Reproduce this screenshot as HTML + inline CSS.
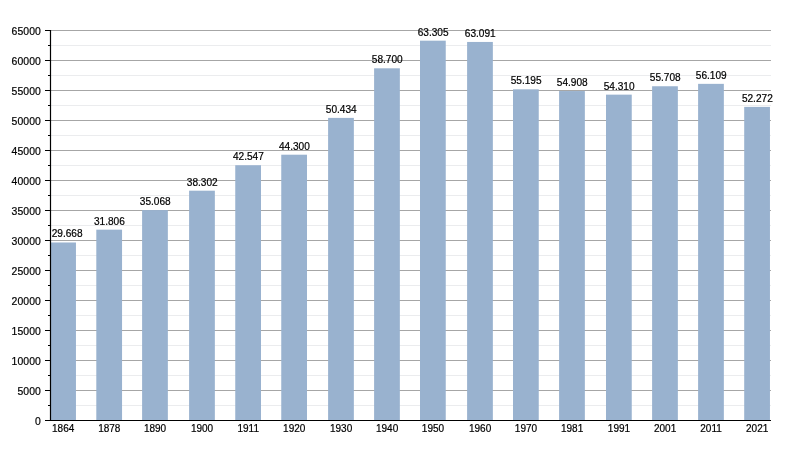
<!DOCTYPE html>
<html><head><meta charset="utf-8"><title>Chart</title>
<style>html,body{margin:0;padding:0;background:#fff}svg{display:block}text{font-family:"Liberation Sans",sans-serif;font-size:10.1px;fill:#000}.yl{font-size:10.45px;letter-spacing:0.05px}.xl{font-size:10px}text{stroke:#000;stroke-width:0.2px}</style></head><body>
<svg width="800" height="450" viewBox="0 0 800 450">
<rect width="800" height="450" fill="#fff"/>
<line x1="50.5" y1="405.5" x2="771" y2="405.5" stroke="#ebecee" stroke-width="1"/>
<line x1="50.5" y1="375.5" x2="771" y2="375.5" stroke="#ebecee" stroke-width="1"/>
<line x1="50.5" y1="345.5" x2="771" y2="345.5" stroke="#ebecee" stroke-width="1"/>
<line x1="50.5" y1="315.5" x2="771" y2="315.5" stroke="#ebecee" stroke-width="1"/>
<line x1="50.5" y1="285.5" x2="771" y2="285.5" stroke="#ebecee" stroke-width="1"/>
<line x1="50.5" y1="255.5" x2="771" y2="255.5" stroke="#ebecee" stroke-width="1"/>
<line x1="50.5" y1="225.5" x2="771" y2="225.5" stroke="#ebecee" stroke-width="1"/>
<line x1="50.5" y1="195.5" x2="771" y2="195.5" stroke="#ebecee" stroke-width="1"/>
<line x1="50.5" y1="165.5" x2="771" y2="165.5" stroke="#ebecee" stroke-width="1"/>
<line x1="50.5" y1="135.5" x2="771" y2="135.5" stroke="#ebecee" stroke-width="1"/>
<line x1="50.5" y1="105.5" x2="771" y2="105.5" stroke="#ebecee" stroke-width="1"/>
<line x1="50.5" y1="75.5" x2="771" y2="75.5" stroke="#ebecee" stroke-width="1"/>
<line x1="50.5" y1="45.5" x2="771" y2="45.5" stroke="#ebecee" stroke-width="1"/>
<line x1="50.5" y1="390.5" x2="771" y2="390.5" stroke="#a6a6a6" stroke-width="1"/>
<line x1="50.5" y1="360.5" x2="771" y2="360.5" stroke="#a6a6a6" stroke-width="1"/>
<line x1="50.5" y1="330.5" x2="771" y2="330.5" stroke="#a6a6a6" stroke-width="1"/>
<line x1="50.5" y1="300.5" x2="771" y2="300.5" stroke="#a6a6a6" stroke-width="1"/>
<line x1="50.5" y1="270.5" x2="771" y2="270.5" stroke="#a6a6a6" stroke-width="1"/>
<line x1="50.5" y1="240.5" x2="771" y2="240.5" stroke="#a6a6a6" stroke-width="1"/>
<line x1="50.5" y1="210.5" x2="771" y2="210.5" stroke="#a6a6a6" stroke-width="1"/>
<line x1="50.5" y1="180.5" x2="771" y2="180.5" stroke="#a6a6a6" stroke-width="1"/>
<line x1="50.5" y1="150.5" x2="771" y2="150.5" stroke="#a6a6a6" stroke-width="1"/>
<line x1="50.5" y1="120.5" x2="771" y2="120.5" stroke="#a6a6a6" stroke-width="1"/>
<line x1="50.5" y1="90.5" x2="771" y2="90.5" stroke="#a6a6a6" stroke-width="1"/>
<line x1="50.5" y1="60.5" x2="771" y2="60.5" stroke="#a6a6a6" stroke-width="1"/>
<line x1="50.5" y1="30.5" x2="771" y2="30.5" stroke="#a6a6a6" stroke-width="1"/>
<rect x="50.20" y="242.49" width="25.75" height="178.01" fill="#99b2cf"/>
<rect x="96.30" y="229.66" width="25.75" height="190.84" fill="#99b2cf"/>
<rect x="142.10" y="210.09" width="25.75" height="210.41" fill="#99b2cf"/>
<rect x="189.10" y="190.69" width="25.75" height="229.81" fill="#99b2cf"/>
<rect x="235.25" y="165.22" width="25.75" height="255.28" fill="#99b2cf"/>
<rect x="281.25" y="154.70" width="25.75" height="265.80" fill="#99b2cf"/>
<rect x="328.10" y="117.90" width="25.75" height="302.60" fill="#99b2cf"/>
<rect x="374.10" y="68.30" width="25.75" height="352.20" fill="#99b2cf"/>
<rect x="420.00" y="40.67" width="25.75" height="379.83" fill="#99b2cf"/>
<rect x="467.10" y="41.95" width="25.75" height="378.55" fill="#99b2cf"/>
<rect x="513.00" y="89.33" width="25.75" height="331.17" fill="#99b2cf"/>
<rect x="559.10" y="91.05" width="25.75" height="329.45" fill="#99b2cf"/>
<rect x="606.00" y="94.64" width="25.75" height="325.86" fill="#99b2cf"/>
<rect x="652.10" y="86.25" width="25.75" height="334.25" fill="#99b2cf"/>
<rect x="698.10" y="83.85" width="25.75" height="336.65" fill="#99b2cf"/>
<rect x="744.20" y="106.87" width="25.75" height="313.63" fill="#99b2cf"/>
<line x1="50.5" y1="30" x2="50.5" y2="421" stroke="#000" stroke-width="1.2"/>
<line x1="45" y1="420.5" x2="771" y2="420.5" stroke="#000" stroke-width="1"/>
<line x1="45" y1="420.5" x2="50.5" y2="420.5" stroke="#000" stroke-width="1"/>
<text class="yl" x="40.9" y="424.80" text-anchor="end">0</text>
<line x1="48" y1="405.5" x2="50.5" y2="405.5" stroke="#000" stroke-width="1"/>
<line x1="45" y1="390.5" x2="50.5" y2="390.5" stroke="#000" stroke-width="1"/>
<text class="yl" x="40.9" y="394.80" text-anchor="end">5000</text>
<line x1="48" y1="375.5" x2="50.5" y2="375.5" stroke="#000" stroke-width="1"/>
<line x1="45" y1="360.5" x2="50.5" y2="360.5" stroke="#000" stroke-width="1"/>
<text class="yl" x="40.9" y="364.80" text-anchor="end">10000</text>
<line x1="48" y1="345.5" x2="50.5" y2="345.5" stroke="#000" stroke-width="1"/>
<line x1="45" y1="330.5" x2="50.5" y2="330.5" stroke="#000" stroke-width="1"/>
<text class="yl" x="40.9" y="334.80" text-anchor="end">15000</text>
<line x1="48" y1="315.5" x2="50.5" y2="315.5" stroke="#000" stroke-width="1"/>
<line x1="45" y1="300.5" x2="50.5" y2="300.5" stroke="#000" stroke-width="1"/>
<text class="yl" x="40.9" y="304.80" text-anchor="end">20000</text>
<line x1="48" y1="285.5" x2="50.5" y2="285.5" stroke="#000" stroke-width="1"/>
<line x1="45" y1="270.5" x2="50.5" y2="270.5" stroke="#000" stroke-width="1"/>
<text class="yl" x="40.9" y="274.80" text-anchor="end">25000</text>
<line x1="48" y1="255.5" x2="50.5" y2="255.5" stroke="#000" stroke-width="1"/>
<line x1="45" y1="240.5" x2="50.5" y2="240.5" stroke="#000" stroke-width="1"/>
<text class="yl" x="40.9" y="244.80" text-anchor="end">30000</text>
<line x1="48" y1="225.5" x2="50.5" y2="225.5" stroke="#000" stroke-width="1"/>
<line x1="45" y1="210.5" x2="50.5" y2="210.5" stroke="#000" stroke-width="1"/>
<text class="yl" x="40.9" y="214.80" text-anchor="end">35000</text>
<line x1="48" y1="195.5" x2="50.5" y2="195.5" stroke="#000" stroke-width="1"/>
<line x1="45" y1="180.5" x2="50.5" y2="180.5" stroke="#000" stroke-width="1"/>
<text class="yl" x="40.9" y="184.80" text-anchor="end">40000</text>
<line x1="48" y1="165.5" x2="50.5" y2="165.5" stroke="#000" stroke-width="1"/>
<line x1="45" y1="150.5" x2="50.5" y2="150.5" stroke="#000" stroke-width="1"/>
<text class="yl" x="40.9" y="154.80" text-anchor="end">45000</text>
<line x1="48" y1="135.5" x2="50.5" y2="135.5" stroke="#000" stroke-width="1"/>
<line x1="45" y1="120.5" x2="50.5" y2="120.5" stroke="#000" stroke-width="1"/>
<text class="yl" x="40.9" y="124.80" text-anchor="end">50000</text>
<line x1="48" y1="105.5" x2="50.5" y2="105.5" stroke="#000" stroke-width="1"/>
<line x1="45" y1="90.5" x2="50.5" y2="90.5" stroke="#000" stroke-width="1"/>
<text class="yl" x="40.9" y="94.80" text-anchor="end">55000</text>
<line x1="48" y1="75.5" x2="50.5" y2="75.5" stroke="#000" stroke-width="1"/>
<line x1="45" y1="60.5" x2="50.5" y2="60.5" stroke="#000" stroke-width="1"/>
<text class="yl" x="40.9" y="64.80" text-anchor="end">60000</text>
<line x1="48" y1="45.5" x2="50.5" y2="45.5" stroke="#000" stroke-width="1"/>
<line x1="45" y1="30.5" x2="50.5" y2="30.5" stroke="#000" stroke-width="1"/>
<text class="yl" x="40.9" y="34.80" text-anchor="end">65000</text>
<text class="xl" x="63.18" y="431.7" text-anchor="middle">1864</text>
<text x="51.7" y="237.40">29.668</text>
<text class="xl" x="109.27" y="431.7" text-anchor="middle">1878</text>
<text x="109.42" y="225.40" text-anchor="middle">31.806</text>
<text class="xl" x="155.07" y="431.7" text-anchor="middle">1890</text>
<text x="155.22" y="205.40" text-anchor="middle">35.068</text>
<text class="xl" x="202.07" y="431.7" text-anchor="middle">1900</text>
<text x="202.22" y="186.40" text-anchor="middle">38.302</text>
<text class="xl" x="248.22" y="431.7" text-anchor="middle">1911</text>
<text x="248.38" y="160.40" text-anchor="middle">42.547</text>
<text class="xl" x="294.23" y="431.7" text-anchor="middle">1920</text>
<text x="294.38" y="150.40" text-anchor="middle">44.300</text>
<text class="xl" x="341.08" y="431.7" text-anchor="middle">1930</text>
<text x="341.23" y="113.40" text-anchor="middle">50.434</text>
<text class="xl" x="387.08" y="431.7" text-anchor="middle">1940</text>
<text x="387.23" y="63.40" text-anchor="middle">58.700</text>
<text class="xl" x="432.98" y="431.7" text-anchor="middle">1950</text>
<text x="433.12" y="36.40" text-anchor="middle">63.305</text>
<text class="xl" x="480.08" y="431.7" text-anchor="middle">1960</text>
<text x="480.23" y="37.40" text-anchor="middle">63.091</text>
<text class="xl" x="525.98" y="431.7" text-anchor="middle">1970</text>
<text x="526.12" y="84.40" text-anchor="middle">55.195</text>
<text class="xl" x="572.08" y="431.7" text-anchor="middle">1981</text>
<text x="572.23" y="86.40" text-anchor="middle">54.908</text>
<text class="xl" x="618.98" y="431.7" text-anchor="middle">1991</text>
<text x="619.12" y="90.40" text-anchor="middle">54.310</text>
<text class="xl" x="665.08" y="431.7" text-anchor="middle">2001</text>
<text x="665.23" y="81.40" text-anchor="middle">55.708</text>
<text class="xl" x="711.08" y="431.7" text-anchor="middle">2011</text>
<text x="711.23" y="79.40" text-anchor="middle">56.109</text>
<text class="xl" x="757.18" y="431.7" text-anchor="middle">2021</text>
<text x="757.33" y="102.40" text-anchor="middle">52.272</text>
</svg></body></html>
